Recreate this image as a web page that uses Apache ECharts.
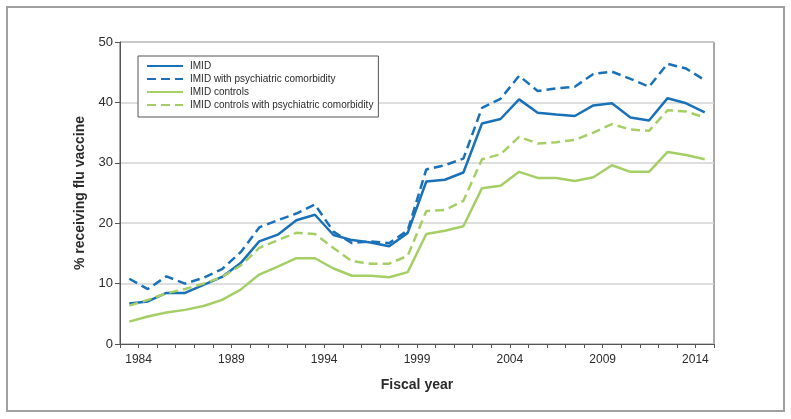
<!DOCTYPE html>
<html>
<head>
<meta charset="utf-8">
<script src="https://cdn.jsdelivr.net/npm/echarts@6/dist/echarts.min.js"></script>
<style>
  html, body { margin: 0; padding: 0; background: #fff; }
  #chart { width: 791px; height: 419px; }
</style>
</head>
<body>
<div id="chart"></div>
<script>
(function () {
  var blue = '#1a71b8';
  var green = '#a5cf66';
  var ink = '#2b2b2b';
  var rule = '#d3d3d3';
  var frame = '#555555';

  // fiscal years (start year), plotted mid-interval between ticks
  var fiscalYears = [1983, 1984, 1985, 1986, 1987, 1988, 1989, 1990, 1991, 1992, 1993,
    1994, 1995, 1996, 1997, 1998, 1999, 2000, 2001, 2002, 2003, 2004, 2005, 2006,
    2007, 2008, 2009, 2010, 2011, 2012, 2013, 2014];
  var imid = [6.7, 7.05, 8.45, 8.45, 9.8, 11.1, 13.4, 17.0, 18.1, 20.5, 21.4,
    18.05, 17.2, 16.8, 16.2, 18.4, 26.9, 27.2, 28.4, 36.5, 37.25, 40.5, 38.3, 38.0,
    37.75, 39.5, 39.85, 37.5, 37.0, 40.7, 39.85, 38.35];
  var imidPsych = [10.8, 9.1, 11.2, 10.0, 10.95, 12.4, 15.2, 19.3, 20.5, 21.6, 23.1,
    18.6, 16.7, 17.0, 16.7, 18.8, 28.9, 29.6, 30.7, 39.1, 40.6, 44.4, 41.9, 42.3,
    42.6, 44.7, 45.1, 43.9, 42.6, 46.4, 45.6, 43.7];
  var controls = [3.7, 4.55, 5.2, 5.65, 6.3, 7.3, 9.0, 11.5, 12.8, 14.2, 14.2,
    12.5, 11.3, 11.3, 11.05, 11.9, 18.2, 18.75, 19.5, 25.8, 26.2, 28.5, 27.5, 27.5,
    27.0, 27.6, 29.6, 28.5, 28.5, 31.8, 31.3, 30.6];
  var controlsPsych = [6.35, 7.3, 8.4, 9.1, 10.0, 11.1, 13.0, 15.9, 17.2, 18.4, 18.2,
    15.9, 13.7, 13.3, 13.3, 14.6, 22.0, 22.2, 23.7, 30.6, 31.4, 34.3, 33.2, 33.4,
    33.8, 35.0, 36.4, 35.5, 35.3, 38.7, 38.5, 37.5];
  var names = ['IMID', 'IMID with psychiatric comorbidity', 'IMID controls',
    'IMID controls with psychiatric comorbidity'];

  function pairs(vals) {
    return vals.map(function (v, i) { return [fiscalYears[i] + 0.5, v]; });
  }

  function line(name, vals, color, dashed) {
    return {
      name: name,
      type: 'line',
      data: pairs(vals),
      symbol: 'none',
      lineStyle: { color: color, width: 2.5, type: dashed ? [9, 5] : 'solid' },
      itemStyle: { color: color }
    };
  }

  var chart = echarts.init(document.getElementById('chart'), null, { renderer: 'canvas' });
  chart.setOption({
    animation: false,
    textStyle: { fontFamily: 'Liberation Sans, Arial, sans-serif' },
    graphic: [{
      type: 'rect',
      shape: { x: 7, y: 7, width: 777, height: 404 },
      style: { fill: 'none', stroke: '#a0a0a0', lineWidth: 2 },
      z: -1
    }],
    grid: {
      left: 120, right: 77, top: 42, bottom: 75,
      show: true, borderColor: frame, borderWidth: 1
    },
    legend: {
      orient: 'vertical',
      left: 138,
      top: 56,
      padding: [5, 5, 7, 8],
      itemWidth: 36,
      itemHeight: 10,
      itemGap: 3,
      itemStyle: { opacity: 0 },
      backgroundColor: '#fff',
      borderColor: frame,
      borderWidth: 1,
      textStyle: { color: ink, fontSize: 10, padding: [0, 0, 0, 2] },
      data: names
    },
    xAxis: {
      type: 'value',
      min: 1983,
      max: 2015,
      interval: 1,
      name: 'Fiscal year',
      nameLocation: 'middle',
      nameGap: 34,
      nameTextStyle: { color: ink, fontSize: 14, fontWeight: 'bold' },
      axisLine: { show: true, lineStyle: { color: frame } },
      axisTick: { show: true, length: 4, lineStyle: { color: frame } },
      splitLine: { show: false },
      axisLabel: {
        color: ink, fontSize: 12, margin: 10,
        formatter: function (v) { return (v - 1984) % 5 === 0 ? String(v) : ''; }
      }
    },
    yAxis: {
      type: 'value',
      min: 0,
      max: 50,
      interval: 10,
      name: '% receiving flu vaccine',
      nameLocation: 'middle',
      nameGap: 21,
      nameTextStyle: { color: ink, fontSize: 14, fontWeight: 'bold' },
      axisLine: { show: true, lineStyle: { color: frame } },
      axisTick: { show: true, length: 5, lineStyle: { color: frame } },
      splitLine: { lineStyle: { color: rule, width: 1.5 } },
      axisLabel: { color: ink, fontSize: 13, margin: 7 }
    },
    series: [
      line(names[0], imid, blue, false),
      line(names[1], imidPsych, blue, true),
      line(names[2], controls, green, false),
      line(names[3], controlsPsych, green, true)
    ]
  });
})();
</script>
</body>
</html>
